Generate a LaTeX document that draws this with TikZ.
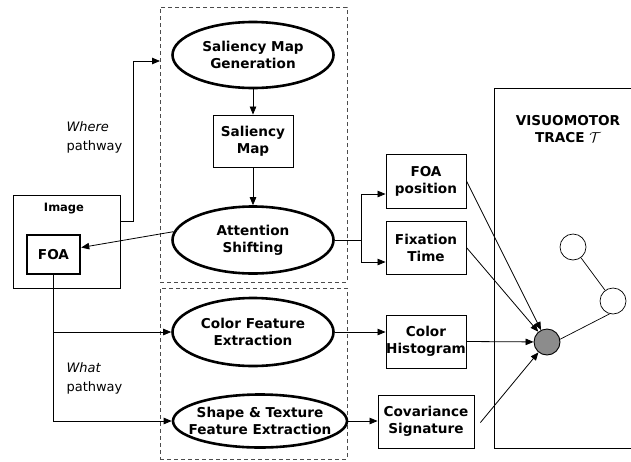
\documentclass[tikz,border=0pt]{standalone}
\usepackage{fontspec}
\setmainfont{DejaVu Sans}
\usetikzlibrary{shapes.geometric,arrows.meta}
\begin{document}
\begin{tikzpicture}[x=1pt,y=-1pt,
  lbl/.style={font=\bfseries\fontsize{13.6}{17}\selectfont, align=center},
  proc/.style={lbl, ellipse, draw, line width=2.6pt, inner sep=0pt},
  datbox/.style={lbl, rectangle, draw, line width=0.9pt, inner sep=0pt},
  arr/.style={-{Triangle[length=8pt,width=6.5pt]}, line width=0.8pt},
  conn/.style={line width=0.7pt},
  grp/.style={draw=black!70, dash pattern=on 4pt off 3pt, line width=0.8pt, inner sep=0pt},
  pathlbl/.style={font=\fontsize{13}{19}\selectfont, align=left, anchor=west},
  unit/.style={circle, draw, line width=0.7pt, minimum size=26pt, inner sep=0pt}
]
\useasboundingbox (0,0) rectangle (631,461);

% dashed groups: "where" and "what" stages
\node[grp, minimum width=187pt, minimum height=275pt] (wherebox) at (253.5,144.5) {};
\node[grp, minimum width=187pt, minimum height=171pt] (whatbox) at (253.5,373.5) {};

% processing stages
\node[proc, minimum width=161pt, minimum height=66pt] (smg) at (253,55) {Saliency Map\\Generation};
\node[datbox, minimum width=80pt, minimum height=52pt] (sm) at (253,141) {Saliency\\Map};
\node[proc, minimum width=161pt, minimum height=67pt] (as) at (253,240) {Attention\\Shifting};
\node[proc, minimum width=161pt, minimum height=68pt] (cfe) at (253,332) {Color Feature\\Extraction};
\node[proc, inner xsep=-18pt, minimum width=174pt, minimum height=53pt] (stf) at (260,421) {Shape \& Texture\\Feature Extraction};

% input image with focus of attention
\node[draw, line width=0.9pt, minimum width=107pt, minimum height=93pt, inner sep=0pt] (img) at (66.5,241.5) {};
\node[font=\bfseries\fontsize{11.5}{13}\selectfont] (imglbl) at (64,209) {Image};
\node[lbl, draw, line width=2.5pt, minimum width=53pt, minimum height=39pt, inner sep=0pt] (foa) at (53.5,254.5) {FOA};

% extracted descriptors
\node[datbox, minimum width=80pt, minimum height=54pt] (fp) at (426,181) {FOA\\position};
\node[datbox, minimum width=80pt, minimum height=53pt] (ft) at (426,247.5) {Fixation\\Time};
\node[datbox, minimum width=80pt, minimum height=53pt] (ch) at (426,341.5) {Color\\Histogram};
\node[datbox, minimum width=96pt, minimum height=53pt] (cs) at (426,421.5) {Covariance\\Signature};

% visuomotor trace
\draw[line width=0.9pt] (631,88) -- (494,88) -- (494,448) -- (631,448);
\node[lbl] (vt) at (568,129) {VISUOMOTOR\\TRACE $\mathcal{T}$};
\node[unit, fill=black!45, line width=0.9pt] (G) at (547,342) {};
\node[unit] (c1) at (573,247) {};
\node[unit] (c2) at (613,301) {};

% pathway labels
\node[pathlbl] (wherelbl) at (63,137) {\textit{Where}\\pathway};
\node[pathlbl] (whatlbl) at (63,378) {\textit{What}\\pathway};

% connectors
\coordinate (wtip) at (160,61);
\draw[arr] ([yshift=20.5pt]img.east) -- ++(13,0) |- (wtip);
\draw[arr] (smg) -- (sm);
\draw[arr] (sm) -- (as);
\draw[arr] (as.174) -- ([yshift=7pt]foa.east);
\draw[arr] (foa.south) |- (stf.west);
\draw[arr] (foa.south |- cfe.west) -- (cfe.west);
\draw[conn] (as.east) -- ++(27,0) coordinate (jn);
\draw[arr] (jn) |- ([yshift=-13pt]fp.west);
\draw[arr] (jn) |- ([yshift=-14.5pt]ft.west);
\draw[arr] (cfe.east) -- (cfe.east -| ch.west);
\draw[arr] (stf.east) -- (stf.east -| cs.west);
\draw[arr] (fp.east) -- (G);
\draw[arr] (ft.east) -- (G);
\draw[arr] (ch.east) -- (G);
\draw[arr] ([xshift=6pt,yshift=-1pt]cs.east) -- (G);
\draw[conn] (c1) -- (c2);
\draw[conn] (c2.255) -- (G.12);
\end{tikzpicture}
\end{document}
